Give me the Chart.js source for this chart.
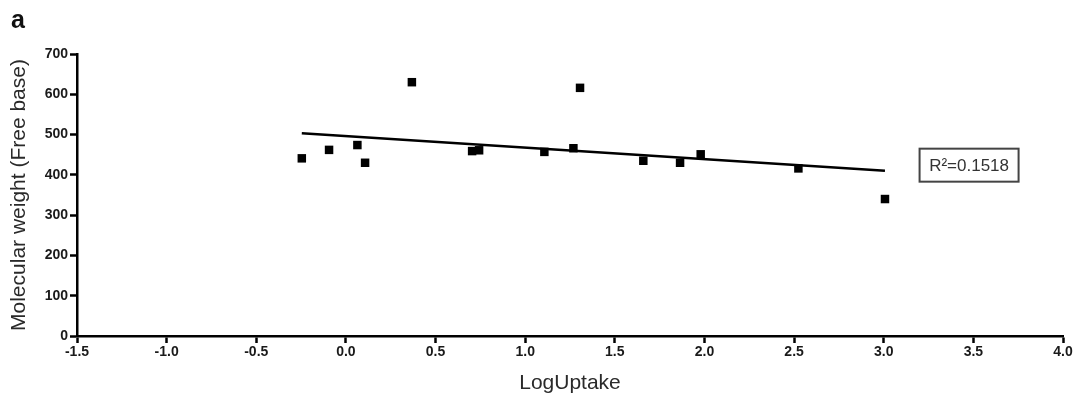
<!DOCTYPE html>
<html>
<head>
<meta charset="utf-8">
<script src="https://cdn.jsdelivr.net/npm/chart.js@4/dist/chart.umd.min.js"></script>
<style>
  html, body { margin: 0; padding: 0; background: #fff; }
  #wrap { width: 1078px; height: 402px; position: relative; }
</style>
</head>
<body>
<div id="wrap"><canvas id="c" width="1078" height="402"></canvas></div>
<script>
// ---- data ----
const logUptake = [-0.246, -0.094, 0.064, 0.107, 0.368, 0.704, 0.743, 1.107, 1.269, 1.306, 1.659, 1.864, 1.979, 2.524, 3.007];
const molWeight = [441, 462, 474, 430, 630, 459, 461, 457, 466, 616, 435, 430, 451, 416, 340];
const fitX = [-0.246, 3.007];
const fitY = [503, 410];
const xTicks = [-1.5, -1.0, -0.5, 0.0, 0.5, 1.0, 1.5, 2.0, 2.5, 3.0, 3.5, 4.0];
const yTicks = [0, 100, 200, 300, 400, 500, 600, 700];
const rSquaredLabel = 'R²=0.1518';
const panelLabel = 'a';
const labelAnchor = [3.2, 465];

const points = logUptake.map((x, i) => ({ x: x, y: molWeight[i] }));
const fitLine = fitX.map((x, i) => ({ x: x, y: fitY[i] }));

const annot = {
  id: 'annot',
  afterDraw(chart) {
    const ctx = chart.ctx;
    const xs = chart.scales.x, ys = chart.scales.y;
    ctx.save();
    // panel letter
    ctx.fillStyle = '#111';
    ctx.font = 'bold 25px "Liberation Sans", Arial, sans-serif';
    ctx.textBaseline = 'alphabetic';
    ctx.textAlign = 'left';
    ctx.fillText(panelLabel, 11, 28);
    // R² box
    const bx = xs.getPixelForValue(labelAnchor[0]);
    const by = ys.getPixelForValue(labelAnchor[1]);
    const bw = 99, bh = 33;
    ctx.strokeStyle = '#444';
    ctx.lineWidth = 2;
    ctx.strokeRect(bx, by, bw, bh);
    ctx.fillStyle = '#333';
    ctx.font = '17px "Liberation Sans", Arial, sans-serif';
    ctx.textBaseline = 'middle';
    ctx.textAlign = 'center';
    ctx.fillText(rSquaredLabel, bx + bw / 2, by + bh / 2 + 1);
    ctx.restore();
  }
};

new Chart(document.getElementById('c'), {
  type: 'scatter',
  data: {
    datasets: [
      {
        type: 'line',
        data: fitLine,
        borderColor: '#000',
        borderWidth: 2.5,
        pointRadius: 0,
        fill: false,
        order: 2
      },
      {
        type: 'scatter',
        data: points,
        pointStyle: 'rect',
        pointRadius: 6,
        backgroundColor: '#000',
        borderColor: '#000',
        borderWidth: 0,
        order: 1
      }
    ]
  },
  options: {
    responsive: false,
    animation: false,
    devicePixelRatio: 1,
    layout: { padding: { left: 0, right: 15, top: 54, bottom: 0 } },
    plugins: { legend: { display: false }, tooltip: { enabled: false } },
    scales: {
      x: {
        type: 'linear',
        min: -1.5, max: 4.0,
        afterFit(s) { s.height = 66; },
        afterBuildTicks(s) { s.ticks = xTicks.map(v => ({ value: v })); },
        border: { display: true, color: '#000', width: 2.5 },
        grid: { display: true, drawOnChartArea: false, drawTicks: true, tickLength: 7, tickWidth: 2.5, tickColor: '#000' },
        ticks: {
          color: '#1a1a1a',
          padding: 1,
          font: { family: '"Liberation Sans", Arial, sans-serif', size: 14, weight: 'bold' },
          callback: v => v.toFixed(1),
          maxRotation: 0, autoSkip: false
        },
        title: {
          display: true, text: 'LogUptake', color: '#2a2a2a',
          font: { family: '"Liberation Sans", Arial, sans-serif', size: 21 },
          padding: { top: 0, bottom: 6 }
        }
      },
      y: {
        type: 'linear',
        min: 0, max: 700,
        afterFit(s) { s.width = 77; },
        afterBuildTicks(s) { s.ticks = yTicks.map(v => ({ value: v })); },
        border: { display: true, color: '#000', width: 2.5 },
        grid: { display: true, drawOnChartArea: false, drawTicks: true, tickLength: 7, tickWidth: 2.5, tickColor: '#000' },
        ticks: {
          color: '#1a1a1a',
          padding: 2,
          font: { family: '"Liberation Sans", Arial, sans-serif', size: 14, weight: 'bold' },
          autoSkip: false
        },
        title: {
          display: true, text: 'Molecular weight (Free base)', color: '#2a2a2a',
          font: { family: '"Liberation Sans", Arial, sans-serif', size: 21 },
          padding: { top: 7, bottom: 0 }
        }
      }
    }
  },
  plugins: [annot]
});
</script>
</body>
</html>
